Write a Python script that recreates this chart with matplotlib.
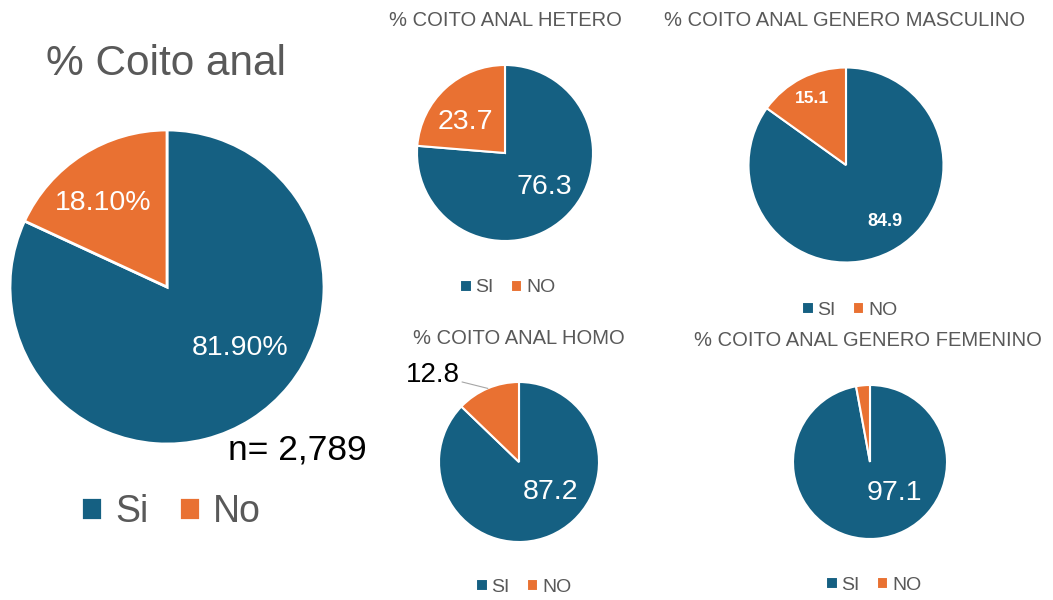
import matplotlib
matplotlib.use("Agg")
import matplotlib.pyplot as plt
import numpy as np

plt.rcParams['font.family'] = ['Liberation Sans', 'DejaVu Sans']

# ---- data ----
categories_main = ["Si", "No"]
categories_small = ["SI", "NO"]
main_values = [81.90, 18.10]
hetero_values = [76.3, 23.7]
masc_values = [84.9, 15.1]
homo_values = [87.2, 12.8]
fem_values = [97.1, 2.9]
n_text = "n= 2,789"
main_title = "% Coito anal"
titles = ["% COITO ANAL HETERO", "% COITO ANAL GENERO MASCULINO",
          "% COITO ANAL HOMO", "% COITO ANAL GENERO FEMENINO"]

BLUE = "#156082"
ORANGE = "#E97132"
GRAY = "#595959"
W, H = 1053, 600

fig = plt.figure(figsize=(W / 100, H / 100), dpi=100)
fig.patch.set_facecolor("white")


def fx(x):
    return x / W


def fy(y):
    return 1 - y / H


def pie_axes(cx, cy, r):
    ax = fig.add_axes([(cx - r) / W, (H - cy - r) / H, 2 * r / W, 2 * r / H])
    ax.set_xlim(-1, 1)
    ax.set_ylim(-1, 1)
    ax.set_axis_off()
    return ax


def draw_pie(ax, values, lw=1.5):
    wedges, _ = ax.pie(values, colors=[BLUE, ORANGE], startangle=90,
                       counterclock=False, radius=1,
                       wedgeprops=dict(edgecolor="white", linewidth=lw))
    ax.set_xlim(-1, 1)
    ax.set_ylim(-1, 1)
    return wedges


def legend(wedges, labels, cx, cy, fs, hl, tp, cs):
    fig.legend(wedges, labels, loc="center", bbox_to_anchor=(fx(cx), fy(cy)),
               bbox_transform=fig.transFigure, ncol=2, frameon=False,
               fontsize=fs, handlelength=hl, handleheight=hl,
               handletextpad=tp, columnspacing=cs, labelcolor=GRAY,
               borderpad=0, borderaxespad=0)


LBL = 20.5

# ---- main pie ----
ax = pie_axes(167, 287, 157)
w = draw_pie(ax, main_values, lw=2)
ax.text(0.465, -0.39, f"{main_values[0]:.2f}%", color="white", fontsize=LBL,
        ha="center", va="center")
ax.text(-0.41, 0.535, f"{main_values[1]:.2f}%", color="white", fontsize=LBL,
        ha="center", va="center")
fig.text(fx(166), fy(64), main_title, fontsize=30.5, color=GRAY,
         ha="center", va="center")
fig.text(fx(297), fy(450), n_text, fontsize=25.5, color="black",
         ha="center", va="center")
legend(w, categories_main, 171, 512, 27, 0.56, 0.35, 0.8)

# ---- hetero ----
ax = pie_axes(505, 153, 88)
w = draw_pie(ax, hetero_values)
ax.text(0.45, -0.39, f"{hetero_values[0]:.1f}", color="white", fontsize=LBL,
        ha="center", va="center")
ax.text(-0.45, 0.35, f"{hetero_values[1]:.1f}", color="white", fontsize=LBL,
        ha="center", va="center")
fig.text(fx(505), fy(20), titles[0], fontsize=14.5, color=GRAY,
         ha="center", va="center")
legend(w, categories_small, 508, 288, 14, 0.57, 0.2, 0.9)

# ---- masculino ----
ax = pie_axes(846, 165, 97.5)
w = draw_pie(ax, masc_values)
ax.text(0.40, -0.58, f"{masc_values[0]:.1f}", color="white", fontsize=13,
        fontweight="bold", ha="center", va="center")
ax.text(-0.35, 0.68, f"{masc_values[1]:.1f}", color="white", fontsize=12.5,
        fontweight="bold", ha="center", va="center")
fig.text(fx(845), fy(20), titles[1], fontsize=14.5, color=GRAY,
         ha="center", va="center")
legend(w, categories_small, 850, 310, 14, 0.57, 0.2, 0.9)

# ---- homo ----
ax = pie_axes(519, 462, 80)
w = draw_pie(ax, homo_values)
ax.text(0.39, -0.375, f"{homo_values[0]:.1f}", color="white", fontsize=LBL,
        ha="center", va="center")
mid = np.deg2rad(90 + homo_values[1] / 2 * 3.6)
ax.plot([-0.71, np.cos(mid)], [1.0, np.sin(mid)], color="#A6A6A6", lw=0.8,
        clip_on=False)
ax.text(-0.74, 1.09, f"{homo_values[1]:.1f}", color="black", fontsize=20,
        ha="right", va="center", clip_on=False)
fig.text(fx(519), fy(338), titles[2], fontsize=14.5, color=GRAY,
         ha="center", va="center")
legend(w, categories_small, 524, 587, 14, 0.57, 0.2, 0.9)

# ---- femenino ----
ax = pie_axes(870, 462, 77)
w = draw_pie(ax, fem_values)
ax.text(0.32, -0.40, f"{fem_values[0]:.1f}", color="white", fontsize=LBL,
        ha="center", va="center")
fig.text(fx(868), fy(340), titles[3], fontsize=14.5, color=GRAY,
         ha="center", va="center")
legend(w, categories_small, 874, 585, 14, 0.57, 0.2, 0.9)

fig.savefig("out.png", dpi=100, facecolor="white")
